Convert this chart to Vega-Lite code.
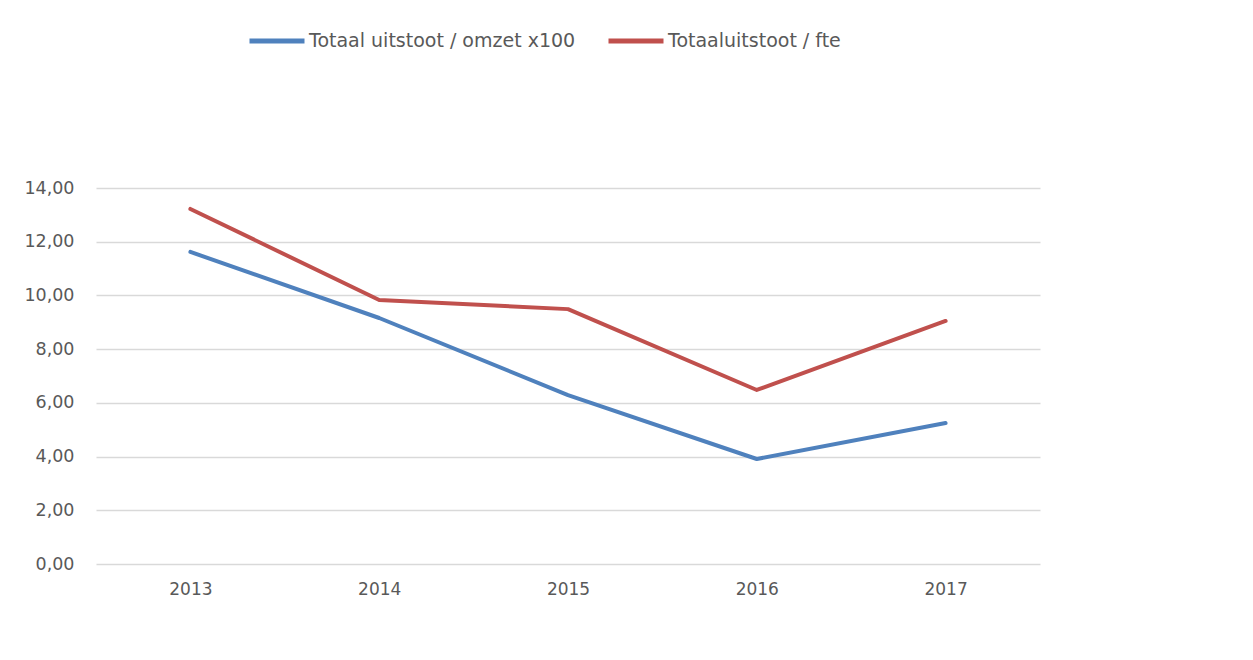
{
  "$schema": "https://vega.github.io/schema/vega-lite/v6.json",
  "width": 944,
  "height": 376,
  "autosize": {"type": "none"},
  "padding": {"left": 96, "top": 188, "right": 213, "bottom": 96},
  "background": "white",
  "config": {
    "locale": {"number": {"decimal": ",", "thousands": ".", "grouping": [3], "currency": ["€", ""]}},
    "view": {"stroke": null},
    "font": "DejaVu Sans"
  },
  "data": {
    "values": [
      {"jaar": "2013", "reeks": "Totaal uitstoot / omzet x100", "waarde": 11.62},
      {"jaar": "2014", "reeks": "Totaal uitstoot / omzet x100", "waarde": 9.16},
      {"jaar": "2015", "reeks": "Totaal uitstoot / omzet x100", "waarde": 6.29},
      {"jaar": "2016", "reeks": "Totaal uitstoot / omzet x100", "waarde": 3.91},
      {"jaar": "2017", "reeks": "Totaal uitstoot / omzet x100", "waarde": 5.25},
      {"jaar": "2013", "reeks": "Totaaluitstoot / fte", "waarde": 13.22},
      {"jaar": "2014", "reeks": "Totaaluitstoot / fte", "waarde": 9.83},
      {"jaar": "2015", "reeks": "Totaaluitstoot / fte", "waarde": 9.49},
      {"jaar": "2016", "reeks": "Totaaluitstoot / fte", "waarde": 6.48},
      {"jaar": "2017", "reeks": "Totaaluitstoot / fte", "waarde": 9.05}
    ]
  },
  "mark": {"type": "line", "strokeWidth": 4, "strokeCap": "round", "strokeJoin": "round"},
  "encoding": {
    "x": {
      "field": "jaar", "type": "ordinal",
      "scale": {"type": "point", "padding": 0.5},
      "axis": {"title": null, "labelAngle": 0, "ticks": false, "domain": false, "grid": false,
               "labelFontSize": 17, "labelColor": "#595959", "labelPadding": 17, "labelFont": "DejaVu Sans"}
    },
    "y": {
      "field": "waarde", "type": "quantitative",
      "scale": {"domain": [0, 14], "nice": false},
      "axis": {"title": null, "values": [0, 2, 4, 6, 8, 10, 12, 14], "format": ".2f",
               "ticks": false, "domain": false, "grid": true, "gridColor": "#d9d9d9", "gridWidth": 1.3,
               "labelFontSize": 17.5, "labelColor": "#595959", "labelPadding": 22, "labelFont": "DejaVu Sans"}
    },
    "color": {
      "field": "reeks", "type": "nominal",
      "scale": {"domain": ["Totaal uitstoot / omzet x100", "Totaaluitstoot / fte"], "range": ["#4f81bd", "#c0504d"]},
      "legend": {
        "title": null, "orient": "none", "direction": "horizontal",
        "legendX": 151, "legendY": -177,
        "symbolType": "stroke", "symbolSize": 3025, "symbolStrokeWidth": 5,
        "labelFontSize": 19, "labelColor": "#595959", "labelFont": "DejaVu Sans",
        "labelOffset": 2, "columnPadding": 22, "labelLimit": 400
      }
    }
  }
}
